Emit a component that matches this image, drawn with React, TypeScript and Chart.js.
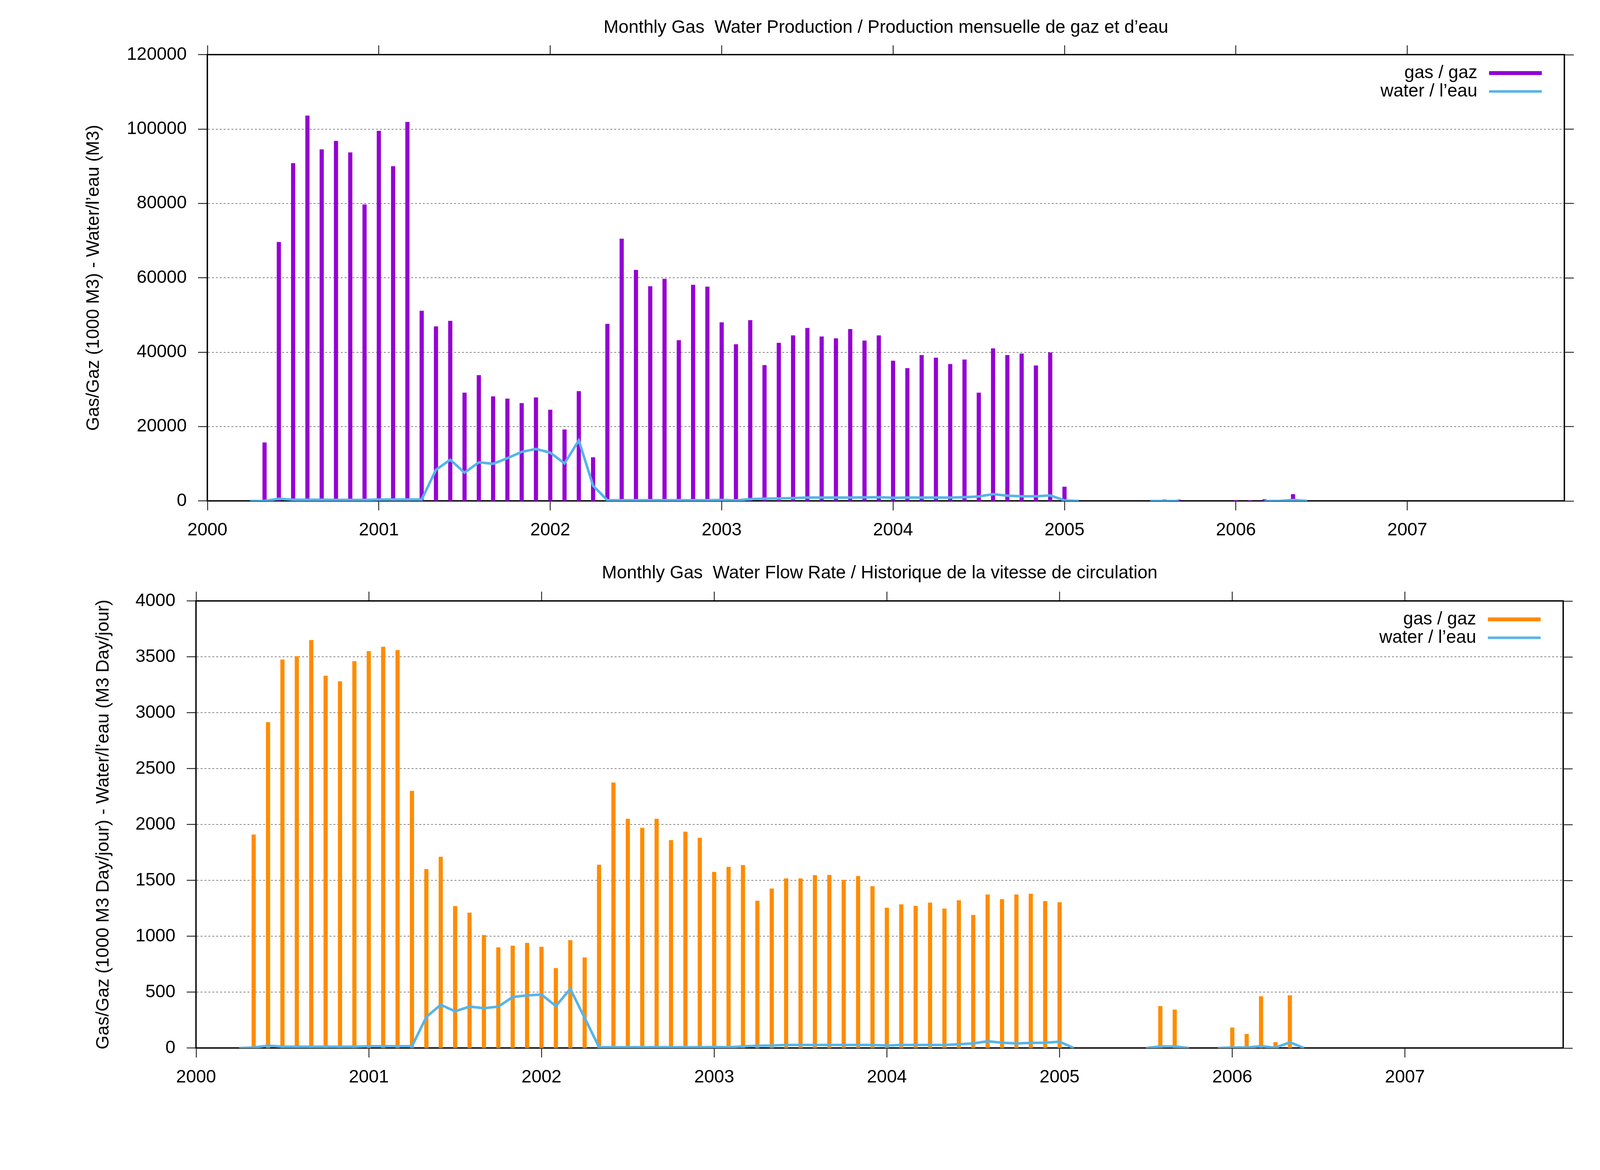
import { useEffect, useRef } from 'react'
import { Chart, registerables } from 'chart.js'

Chart.register(...registerables)

const FONT = '"Liberation Sans", Arial, Helvetica, sans-serif'
const W = 4114
const TICK = 24
const X_AXIS_H = 120

// month helpers: '2000-01' -> 0
function monthIndex(s: string) {
  const [y, m] = s.split('-').map(Number)
  return (y - 2000) * 12 + (m - 1)
}

function monthSpan(from: string, to: string): string[] {
  const out: string[] = []
  let [y, m] = from.split('-').map(Number)
  const [ty, tm] = to.split('-').map(Number)
  while (y < ty || (y === ty && m <= tm)) {
    out.push(`${y}-${String(m).padStart(2, '0')}`)
    m++
    if (m > 12) { m = 1; y++ }
  }
  return out
}

const yearLabels = ['2000', '2001', '2002', '2003', '2004', '2005', '2006', '2007']
const X_MAX = monthIndex('2007-12')

// gas months (same for both panels)
const gasMonths = [
  ...monthSpan('2000-05', '2005-01'),
  '2005-08', '2005-09', '2006-01', '2006-02', '2006-03', '2006-04', '2006-05',
]

// monthly gas production (1000 M3)
const gasProduction = [
  15700, 69600, 90800, 103600, 94500, 96800, 93700, 79700,
  99500, 90000, 101900, 51100, 46900, 48400, 29100, 33800, 28100, 27500, 26300, 27800,
  24500, 19200, 29500, 11700, 47600, 70500, 62100, 57700, 59700, 43200, 58100, 57600,
  48000, 42100, 48600, 36500, 42500, 44500, 46500, 44200, 43700, 46200, 43100, 44500,
  37700, 35700, 39200, 38500, 36800, 38000, 29100, 41000, 39200, 39600, 36400, 39900,
  3800,
  380, 340, 200, 150, 450, 60, 1800,
]

// monthly water production (M3), null = break in the line
const waterProdMonths = [
  ...monthSpan('2000-04', '2005-02'), '2005-03',
  '2005-07', '2005-08', '2005-09', '2005-10',
  '2006-03', '2006-04', '2006-05', '2006-06',
]
const waterProduction = [
  0, 0, 600, 350, 350, 350, 300, 300, 300,
  400, 400, 400, 400, 8400, 11100, 7600, 10400, 10000, 11500, 13200, 14000,
  13000, 10100, 16300, 4100, 200, 200, 200, 200, 200, 200, 200, 200,
  290, 170, 510, 630, 690, 800, 910, 910, 910, 910, 970, 1030,
  860, 910, 910, 910, 910, 1030, 1200, 1830, 1430, 1260, 1260, 1490,
  170, 0, null,
  0, 0, 0, null,
  0, 0, 300, 0,
]

// gas flow rate (1000 M3 / day)
const gasRate = [
  1910, 2915, 3475, 3505, 3650, 3330, 3280, 3460,
  3550, 3590, 3560, 2300, 1600, 1710, 1270, 1210, 1010, 900, 915, 940,
  905, 715, 965, 810, 1640, 2375, 2050, 1970, 2050, 1860, 1935, 1880,
  1575, 1620, 1637, 1317, 1426, 1517, 1517, 1546, 1549, 1504, 1538, 1447,
  1255, 1285, 1272, 1300, 1247, 1321, 1190, 1373, 1331, 1373, 1380, 1314,
  1304,
  375, 343, 183, 125, 462, 52, 471,
]

// water flow rate (M3 / day)
const waterRateMonths = [
  ...monthSpan('2000-04', '2005-02'), '2005-03',
  '2005-07', '2005-08', '2005-09', '2005-10', '2005-11',
  ...monthSpan('2005-12', '2006-06'),
]
const waterRate = [
  0, 5, 22, 12, 12, 12, 12, 12, 12,
  17, 17, 17, 17, 279, 387, 329, 371, 357, 371, 457, 471,
  479, 376, 530, 270, 8, 8, 8, 8, 8, 8, 8, 8,
  10, 8, 15, 21, 23, 28, 28, 28, 28, 28, 28, 28,
  23, 28, 28, 28, 28, 34, 42, 61, 48, 42, 46, 48,
  57, 0, null,
  0, 15, 15, 0, null,
  0, 5, 5, 17, 3, 52, 0,
]

const toPoints = (months: string[], values: (number | null)[]) =>
  months.map((s, i) => ({ x: monthIndex(s), y: values[i] }))

const plotTitle = {
  id: 'plotTitle',
  afterDraw(chart: any, _args: any, opts: any) {
    const { ctx, chartArea } = chart
    ctx.save()
    ctx.font = `46px ${FONT}`
    ctx.fillStyle = '#000'
    ctx.textAlign = 'center'
    ctx.textBaseline = 'middle'
    ctx.fillText(opts.text, (chartArea.left + chartArea.right) / 2, opts.y)
    ctx.restore()
  },
}

// gnuplot style key: text on the left, line sample on the right
const plotKey = {
  id: 'plotKey',
  afterDatasetsDraw(chart: any) {
    const { ctx, chartArea } = chart
    ctx.save()
    ctx.font = `46px ${FONT}`
    ctx.textAlign = 'right'
    ctx.textBaseline = 'middle'
    chart.data.datasets.forEach((ds: any, i: number) => {
      const y = chartArea.top + 47 + i * 47
      ctx.fillStyle = '#000'
      ctx.fillText(ds.label, chartArea.right - 223, y)
      ctx.beginPath()
      ctx.moveTo(chartArea.right - 193, y)
      ctx.lineTo(chartArea.right - 58, y)
      ctx.lineWidth = ds.type === 'line' ? ds.borderWidth : ds.barThickness
      ctx.strokeStyle = ds.type === 'line' ? ds.borderColor : ds.backgroundColor
      ctx.stroke()
    })
    ctx.restore()
  },
}

interface PanelProps {
  top: number
  height: number
  box: { left: number; right: number; top: number; bottom: number }
  title: string
  titleY: number
  yTitle: string
  yTitlePad: number
  yMax: number
  yStep: number
  gasColor: string
  gas: { x: number; y: number | null }[]
  water: { x: number; y: number | null }[]
}

function Panel(p: PanelProps) {
  const chartRef = useRef<HTMLCanvasElement>(null)

  useEffect(() => {
    if (!chartRef.current) return
    const tickFont = { family: FONT, size: 46 }
    const xCommon = {
      type: 'linear' as const,
      min: 0,
      max: X_MAX,
      offset: false,
      border: { color: '#000', width: 3.5 },
      grid: { drawOnChartArea: false, offset: false, tickLength: TICK, tickWidth: 2, tickColor: '#000' },
    }
    const yCommon = {
      type: 'linear' as const,
      min: 0,
      max: p.yMax,
      border: { color: '#000', width: 3.5, dash: [5, 5] },
    }
    const chart = new Chart(chartRef.current, {
      type: 'bar',
      data: {
        datasets: [
          {
            type: 'bar',
            label: 'gas / gaz',
            data: p.gas as any,
            backgroundColor: p.gasColor,
            borderWidth: 0,
            barThickness: 10,
            order: 1,
          },
          {
            type: 'line',
            label: 'water / l’eau',
            data: p.water as any,
            borderColor: '#56B4E9',
            borderWidth: 6.5,
            pointRadius: 0,
            tension: 0,
            fill: false,
            spanGaps: false,
            order: 0,
          },
        ],
      },
      options: {
        animation: false,
        responsive: false,
        devicePixelRatio: 1,
        layout: {
          padding: {
            left: 0,
            top: p.box.top - TICK,
            right: W - p.box.right - TICK,
            bottom: p.height - p.box.bottom - X_AXIS_H,
          },
        },
        plugins: {
          legend: { display: false },
          tooltip: { enabled: false },
          plotTitle: { text: p.title, y: p.titleY },
        } as any,
        scales: {
          x: {
            ...xCommon,
            position: 'bottom',
            ticks: {
              stepSize: 12,
              includeBounds: false,
              autoSkip: false,
              maxRotation: 0,
              padding: 24,
              color: '#000',
              font: tickFont,
              callback: (v: any) => yearLabels[Number(v) / 12] ?? '',
            },
            afterFit: (s: any) => { s.height = X_AXIS_H },
          },
          x2: {
            ...xCommon,
            position: 'top',
            ticks: { display: false, stepSize: 12, includeBounds: false, autoSkip: false },
            afterFit: (s: any) => { s.height = TICK },
          },
          y: {
            ...yCommon,
            position: 'left',
            ticks: {
              stepSize: p.yStep,
              padding: 29,
              color: '#000',
              font: tickFont,
              callback: (v: any) => String(v),
            },
            grid: { color: '#444', lineWidth: 1.3, tickLength: TICK, tickWidth: 2, tickColor: '#000' },
            title: {
              display: true,
              text: p.yTitle,
              color: '#000',
              font: { family: FONT, size: 46 },
              padding: { top: p.yTitlePad, bottom: 0 },
            },
            afterFit: (s: any) => { s.width = p.box.left },
          },
          y2: {
            ...yCommon,
            position: 'right',
            ticks: { display: false, stepSize: p.yStep },
            grid: { drawOnChartArea: false, tickLength: TICK, tickWidth: 2, tickColor: '#000' },
            afterFit: (s: any) => { s.width = TICK },
          },
        } as any,
      },
      plugins: [plotTitle, plotKey],
    })

    return () => chart.destroy()
  }, [])

  return (
    <canvas
      ref={chartRef}
      width={W}
      height={p.height}
      style={{ position: 'absolute', left: 0, top: p.top, width: W, height: p.height }}
    />
  )
}

export default function App() {
  return (
    <div style={{ position: 'absolute', left: 0, top: 0, width: W, height: 2994, background: '#fff', overflow: 'hidden' }}>
      <Panel
        top={0}
        height={1420}
        box={{ left: 531, right: 4005, top: 140, bottom: 1282 }}
        title="Monthly Gas  Water Production / Production mensuelle de gaz et d’eau"
        titleY={71}
        yTitle="Gas/Gaz (1000 M3) - Water/l’eau (M3)"
        yTitlePad={213}
        yMax={120000}
        yStep={20000}
        gasColor="#9400D3"
        gas={toPoints(gasMonths, gasProduction)}
        water={toPoints(waterProdMonths, waterProduction)}
      />
      <Panel
        top={1420}
        height={1574}
        box={{ left: 502, right: 4002, top: 118, bottom: 1262 }}
        title="Monthly Gas  Water Flow Rate / Historique de la vitesse de circulation"
        titleY={47}
        yTitle="Gas/Gaz (1000 M3 Day/jour) - Water/l’eau (M3 Day/jour)"
        yTitlePad={238}
        yMax={4000}
        yStep={500}
        gasColor="#FF8C00"
        gas={toPoints(gasMonths, gasRate)}
        water={toPoints(waterRateMonths, waterRate)}
      />
    </div>
  )
}
